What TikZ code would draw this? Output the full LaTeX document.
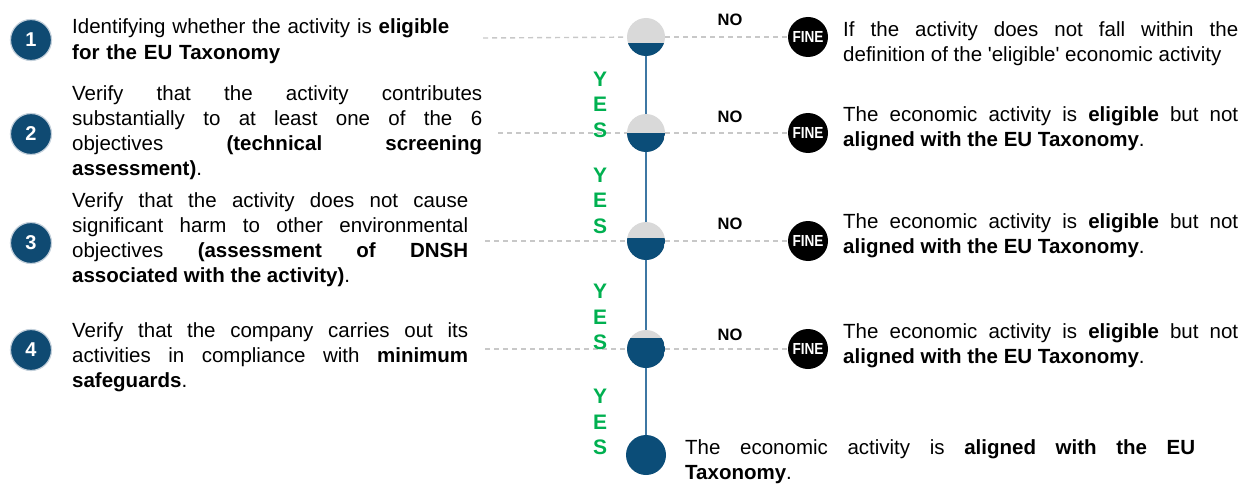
\documentclass[tikz,border=0pt]{standalone}
\usepackage{fontspec}
\setmainfont{Liberation Sans}
\usepackage{graphicx}
\definecolor{navy}{HTML}{0B4D78}
\definecolor{badgeblue}{HTML}{0F4A72}
\definecolor{ringgray}{HTML}{C3D0DB}
\definecolor{stagegray}{HTML}{D9D9D9}
\definecolor{spine}{HTML}{3E77A3}
\definecolor{dashgray}{HTML}{C8C8C8}
\definecolor{yesgreen}{HTML}{00B050}
\begin{document}
\begin{tikzpicture}[x=1pt,y=-1pt,
  badge/.style={circle, minimum size=41pt, inner sep=0pt, fill=badgeblue,
    draw=ringgray, line width=1.2pt, text=white,
    font=\fontsize{20}{24}\selectfont\bfseries},
  stage/.style={circle, minimum size=38pt, inner sep=0pt, fill=stagegray,
    path picture={\fill[navy] ([yshift=#1]path picture bounding box.west)
      rectangle (path picture bounding box.south east);}},
  finalstage/.style={circle, minimum size=40pt, inner sep=0pt, fill=navy},
  fine/.style={circle, minimum size=40pt, inner sep=0pt, fill=black, text=white,
    font=\fontsize{16}{18}\selectfont\bfseries},
  desc/.style={anchor=north west, inner sep=0pt, align=justify,
    font={\fontsize{20.5}{25}\selectfont\hyphenpenalty10000 \tolerance10000 }},
  nolabel/.style={inner sep=0pt, font=\fontsize{16.5}{18}\selectfont\bfseries},
  yeslabel/.style={anchor=north, inner sep=0pt, align=center, text=yesgreen,
    font=\fontsize{21}{25.5}\selectfont\bfseries},
  spineline/.style={draw=spine, line width=2.6pt},
  guide/.style={draw=dashgray, line width=1.4pt, dash pattern=on 5pt off 4pt}
]
\useasboundingbox (0,0) rectangle (1252,484);

% numbered steps
\node[badge] (b1) at (31,40) {1};
\node[badge] (b2) at (31,134) {2};
\node[badge] (b3) at (31,243) {3};
\node[badge] (b4) at (31,350) {4};

% step descriptions
\node[desc, text width=410pt, align=left, font=\fontsize{20.5}{26}\selectfont] (t1) at (72,15.5)
  {\strut Identifying whether the activity is \textbf{eligible}\\ \textbf{for the EU Taxonomy}};
\node[desc, text width=410pt] (t2) at (72,82.5)
  {\strut Verify that the activity contributes\linebreak substantially to at least one of the 6\linebreak
   objectives \textbf{(technical screening\linebreak assessment)}.};
\node[desc, text width=396pt] (t3) at (72,190)
  {\strut Verify that the activity does not cause\linebreak significant harm to other environmental\linebreak
   objectives \textbf{(assessment of DNSH\linebreak associated with the activity)}.};
\node[desc, text width=396pt] (t4) at (72,320)
  {\strut Verify that the company carries out its\linebreak activities in compliance with \textbf{minimum\linebreak
   safeguards}.};

% decision stages on the spine
\node[stage=-6pt] (c1) at (646,37) {};
\node[stage=0pt] (c2) at (646,133) {};
\node[stage=3pt] (c3) at (646,241) {};
\node[stage=11pt] (c4) at (646,349) {};
\node[finalstage] (c5) at (646,455) {};

\draw[spineline] (c1) -- (c2);
\draw[spineline] (c2) -- (c3);
\draw[spineline] (c3) -- (c4);
\draw[spineline] (c4) -- (c5);

% outcome markers
\node[fine] (f1) at (808,37) {\scalebox{0.85}[1]{FINE}};
\node[fine] (f2) at (808,133) {\scalebox{0.85}[1]{FINE}};
\node[fine] (f3) at (808,241) {\scalebox{0.85}[1]{FINE}};
\node[fine] (f4) at (808,349) {\scalebox{0.85}[1]{FINE}};

% dashed guides
\coordinate (g1) at (483,38);
\coordinate (g2) at (498,133);
\coordinate (g3) at (485,241);
\coordinate (g4) at (485,349);
\draw[guide] (g1) -- (c1);
\draw[guide] (g2) -- (c2);
\draw[guide] (g3) -- (c3);
\draw[guide] (g4) -- (c4);
\draw[guide] (c1) -- (f1);
\draw[guide] (c2) -- (f2);
\draw[guide] (c3) -- (f3);
\draw[guide] (c4) -- (f4);

% branch labels
\node[nolabel] (n1) at (730,20) {NO};
\node[nolabel] (n2) at (730,117) {NO};
\node[nolabel] (n3) at (730,223.5) {NO};
\node[nolabel] (n4) at (730,334.5) {NO};
\node[yeslabel] (y1) at (600,68) {\strut Y\\E\\S};
\node[yeslabel] (y2) at (600,164) {\strut Y\\E\\S};
\node[yeslabel] (y3) at (600,280.5) {\strut Y\\E\\S};
\node[yeslabel] (y4) at (600,385.5) {\strut Y\\E\\S};

% outcomes
\node[desc, text width=395pt] (r1) at (843,18.5)
  {\strut If the activity does not fall within the\linebreak
   definition of the \textquotesingle eligible\textquotesingle\ economic activity};
\node[desc, text width=395pt] (r2) at (843,104)
  {\strut The economic activity is \textbf{eligible} but not\linebreak \textbf{aligned with the EU Taxonomy}.};
\node[desc, text width=395pt] (r3) at (843,210.5)
  {\strut The economic activity is \textbf{eligible} but not\linebreak \textbf{aligned with the EU Taxonomy}.};
\node[desc, text width=395pt] (r4) at (843,320.5)
  {\strut The economic activity is \textbf{eligible} but not\linebreak \textbf{aligned with the EU Taxonomy}.};
\node[desc, text width=510pt] (r5) at (685,436.5)
  {\strut The economic activity is \textbf{aligned with the EU\linebreak Taxonomy}.};
\end{tikzpicture}
\end{document}
